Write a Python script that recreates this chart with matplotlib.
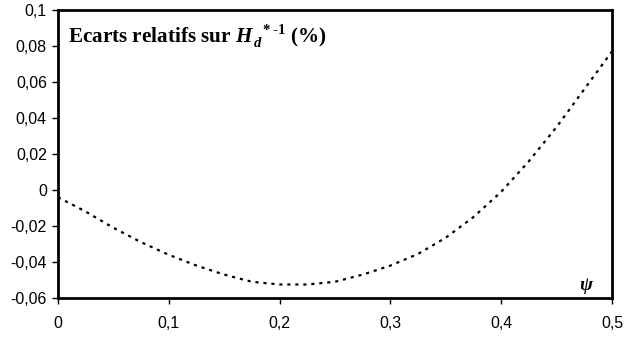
import matplotlib
matplotlib.use("Agg")
import matplotlib.pyplot as plt
from matplotlib.ticker import FuncFormatter

psi = [0.0, 0.025, 0.05, 0.075, 0.1, 0.125, 0.15, 0.175, 0.2, 0.225, 0.25,
       0.275, 0.3, 0.325, 0.35, 0.375, 0.4, 0.425, 0.45, 0.475, 0.5]
ecarts = [-0.004, -0.012, -0.021, -0.029, -0.036, -0.042, -0.047, -0.051,
          -0.0525, -0.0525, -0.051, -0.047, -0.042, -0.0355, -0.0265, -0.015,
          -0.001, 0.016, 0.035, 0.056, 0.077]
xticks = [0, 0.1, 0.2, 0.3, 0.4, 0.5]
yticks = [-0.06, -0.04, -0.02, 0, 0.02, 0.04, 0.06, 0.08, 0.1]

plt.rcParams['mathtext.fontset'] = 'custom'
plt.rcParams['mathtext.rm'] = 'Liberation Serif:bold'
plt.rcParams['mathtext.bf'] = 'Liberation Serif:bold'
plt.rcParams['mathtext.it'] = 'Liberation Serif:italic:bold'
plt.rcParams['mathtext.bfit'] = 'Liberation Serif:italic:bold'

W, H = 625, 340
fig = plt.figure(figsize=(6.25, 3.4), dpi=100)
ax = fig.add_axes([58 / W, 1 - 298 / H, 554 / W, 288 / H])
ax.plot(psi, ecarts, color='black', linestyle=(0, (1.4, 2.2)), linewidth=1.6)
ax.set_xlim(0, 0.5)
ax.set_ylim(-0.06, 0.1)
ax.set_xticks(xticks)
ax.set_yticks(yticks)

def fmt(v, pos):
    s = ('%.2f' % v).rstrip('0').rstrip('.')
    if s in ('-0', ''):
        s = '0'
    return s.replace('.', ',')

ax.xaxis.set_major_formatter(FuncFormatter(fmt))
ax.yaxis.set_major_formatter(FuncFormatter(fmt))
for lab in ax.get_xticklabels() + ax.get_yticklabels():
    lab.set_fontfamily('Liberation Sans')
    lab.set_fontsize(11.5)
ax.tick_params(axis='both', direction='out', length=4, width=1, color='black')
ax.tick_params(axis='x', pad=9)
ax.tick_params(axis='y', pad=4)
for sp in ax.spines.values():
    sp.set_linewidth(2)
    sp.set_color('black')

title = ax.text((68 - 58) / 554, (298 - 43) / 288,
                r"Ecarts relatifs sur $\mathit{H}_{\,\mathit{d}}^{\ \ *\text{-}1}$ (%)",
                transform=ax.transAxes, fontfamily='Liberation Serif', fontweight='bold',
                fontsize=15, ha='left', va='baseline')
fig.canvas.draw()
w = title.get_window_extent().width
title.set_fontsize(15 * 259.0 / w)

ax.text((586 - 58) / 554, (298 - 285) / 288, "ψ", transform=ax.transAxes,
        fontfamily='Liberation Serif', fontweight='bold', fontstyle='italic',
        fontsize=14, ha='center', va='center')

fig.savefig("out.png", dpi=100)
